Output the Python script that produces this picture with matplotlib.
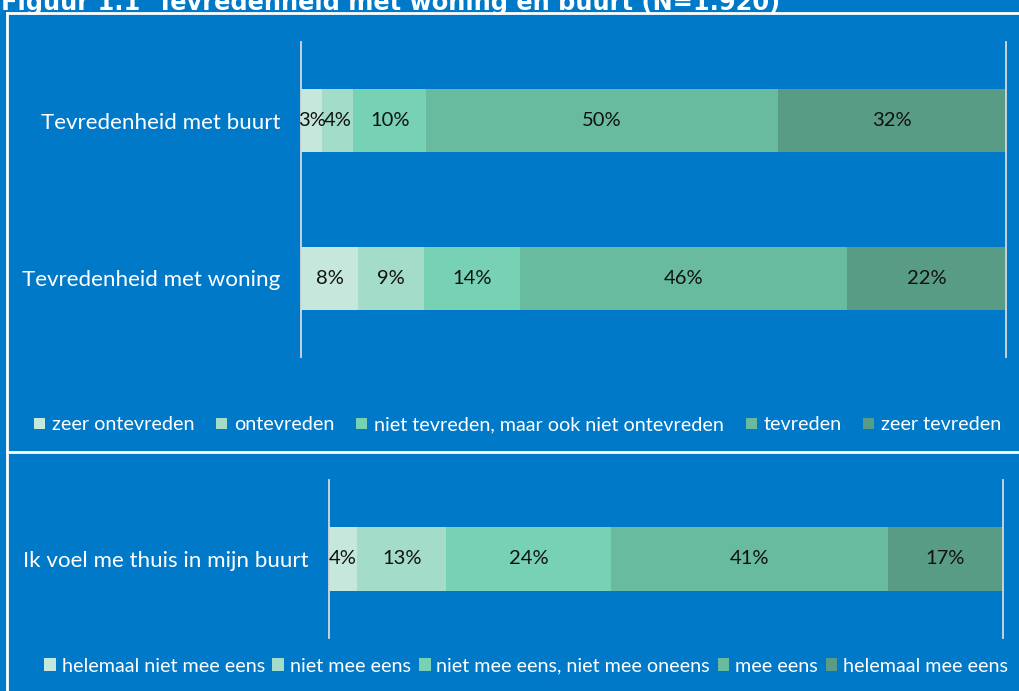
import matplotlib
matplotlib.use("Agg")
import matplotlib.pyplot as plt
from matplotlib.lines import Line2D
from matplotlib.patches import Patch
import numpy as np

W, H = 1019, 691
BG = "#0079C8"
FONT = "Lato"

title = "Figuur 1.1  Tevredenheid met woning en buurt (N=1.920)"

cats1 = ["Tevredenheid met buurt", "Tevredenheid met woning"]
series1 = ["zeer ontevreden", "ontevreden", "niet tevreden, maar ook niet ontevreden",
           "tevreden", "zeer tevreden"]
vals1 = np.array([
    [3.0, 4.4, 10.4, 49.8, 32.4],
    [8.1, 9.4, 13.6, 46.4, 22.4],
])

cats2 = ["Ik voel me thuis in mijn buurt"]
series2 = ["helemaal niet mee eens", "niet mee eens", "niet mee eens, niet mee oneens",
           "mee eens", "helemaal mee eens"]
vals2 = np.array([
    [4.2, 13.2, 24.5, 41.0, 17.1],
])

colors = ["#C6E8DC", "#A3DCC8", "#76D1B5", "#68BB9F", "#599C85"]

fig = plt.figure(figsize=(W / 100, H / 100), dpi=100, facecolor=BG)


def px_axes(x0, y0, x1, y1):
    return fig.add_axes([x0 / W, 1 - y1 / H, (x1 - x0) / W, (y1 - y0) / H])


def draw_panel(ax, cats, vals, series):
    ax.set_facecolor(BG)
    n = len(cats)
    ypos = np.arange(n)
    left = np.zeros(n)
    handles = []
    for j in range(vals.shape[1]):
        bars = ax.barh(ypos, vals[:, j], left=left, height=0.4, color=colors[j],
                       edgecolor="none", label=series[j])
        for i, b in enumerate(bars):
            ax.text(left[i] + vals[i, j] / 2, ypos[i], f"{round(vals[i, j]):.0f}%",
                    ha="center", va="center", fontsize=14.5, color="#111111",
                    family=FONT)
        left = left + vals[:, j]
        handles.append(Patch(facecolor=colors[j], edgecolor="none", label=series[j]))
    ax.set_xlim(0, left.max())
    ax.set_ylim(n - 0.5, -0.5)
    ax.set_yticks(ypos)
    ax.set_yticklabels(cats, color="white", fontsize=16.1, family=FONT)
    ax.tick_params(axis="y", length=0, pad=15)
    ax.set_xticks([])
    for s in ["top", "bottom"]:
        ax.spines[s].set_visible(False)
    for s in ["left", "right"]:
        ax.spines[s].set_color("#D9D9D9")
        ax.spines[s].set_linewidth(1.3)
    return handles


ax1 = px_axes(301, 42, 1006, 357)
h1 = draw_panel(ax1, cats1, vals1, series1)
ax2 = px_axes(329, 480, 1003, 638)
h2 = draw_panel(ax2, cats2, vals2, series2)

leg1 = fig.legend(handles=h1, loc="center left", bbox_to_anchor=(34 / W, 1 - 425 / H),
                  ncol=5, frameon=False, handlelength=0.55,
                  handleheight=0.55, handletextpad=0.36, columnspacing=1.1,
                  prop={"family": FONT, "size": 14.2}, borderpad=0, borderaxespad=0)
for t in leg1.get_texts():
    t.set_color("white")

leg2 = fig.legend(handles=h2, loc="center left", bbox_to_anchor=(44 / W, 1 - 666 / H),
                  ncol=5, frameon=False, handlelength=0.6,
                  handleheight=0.6, handletextpad=0.3, columnspacing=0.38,
                  prop={"family": FONT, "size": 14.2}, borderpad=0, borderaxespad=0)
for t in leg2.get_texts():
    t.set_color("white")

# white frame lines
lw = 2
fig.add_artist(Line2D([7 / W, 7 / W], [0, 1 - 13 / H], color="white", lw=lw,
                      transform=fig.transFigure))
fig.add_artist(Line2D([7 / W, 1], [1 - 13 / H, 1 - 13 / H], color="white", lw=lw,
                      transform=fig.transFigure))
fig.add_artist(Line2D([7 / W, 1], [1 - 452 / H, 1 - 452 / H], color="white", lw=lw,
                      transform=fig.transFigure))

fig.text(1 / W, 1 - 10 / H, title, color="white", fontsize=17.4, fontweight="bold",
         family="DejaVu Sans", ha="left", va="baseline")

fig.savefig("out.png", dpi=100, facecolor=BG)
